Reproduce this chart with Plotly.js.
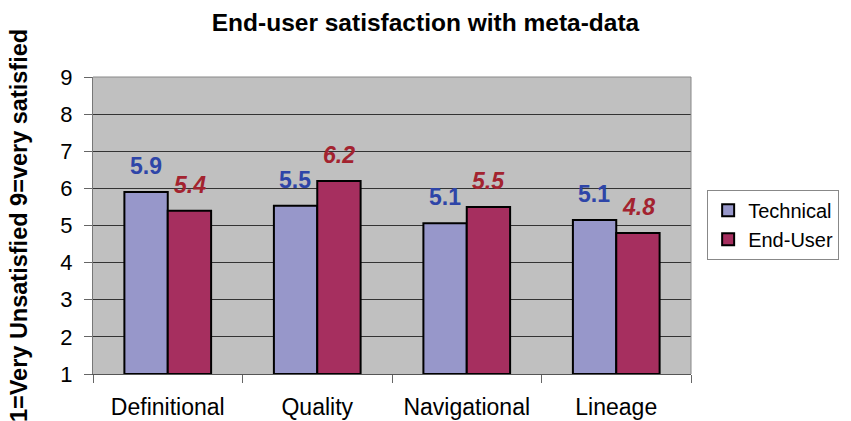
<!DOCTYPE html>
<html><head><meta charset="utf-8">
<script src="https://cdn.plot.ly/plotly-3.0.1.min.js"></script>
<style>html,body{margin:0;padding:0;background:#fff}#c{width:851px;height:421px}</style>
</head><body><div id="c"></div>
<script>
const categories = ["Definitional", "Quality", "Navigational", "Lineage"];
const technical = [5.9, 5.53, 5.06, 5.15];
const endUser = [5.4, 6.2, 5.5, 4.8];
const technicalLabels = ["5.9", "5.5", "5.1", "5.1"];
const endUserLabels = ["5.4", "6.2", "5.5", "4.8"];
const yTicks = [1, 2, 3, 4, 5, 6, 7, 8, 9];
const axisBase = 1;

const font = "Liberation Sans, Arial, sans-serif";
const traces = [
  {type: "bar", name: "Technical", x: categories, y: technical.map(v => v - axisBase), base: axisBase,
   marker: {color: "#9797CA", line: {color: "#000", width: 2}}},
  {type: "bar", name: "End-User", x: categories, y: endUser.map(v => v - axisBase), base: axisBase,
   marker: {color: "#A62F5F", line: {color: "#000", width: 2}}}
];

const annotations = [];
categories.forEach((c, i) => {
  annotations.push({x: c, y: technical[i], text: technicalLabels[i], showarrow: false,
    xshift: -22, yshift: 26, font: {family: font, size: 23, color: "#2E45A8", weight: "bold"}});
  annotations.push({x: c, y: endUser[i], text: "<i>" + endUserLabels[i] + "</i>", showarrow: false,
    xshift: 22, yshift: 26, font: {family: font, size: 23, color: "#A3232F", weight: "bold"}});
});

const layout = {
  width: 851, height: 421,
  margin: {l: 93, r: 154, t: 77, b: 47},
  paper_bgcolor: "#fff", plot_bgcolor: "#C0C0C0",
  title: {text: "<b>End-user satisfaction with meta-data</b>", x: 0.5, xanchor: "center",
    y: 0.947, yanchor: "middle", font: {family: font, size: 24.5, color: "#000"}},
  barmode: "group", bargap: 0.42, bargroupgap: 0,
  xaxis: {type: "category", showgrid: false, tickson: "boundaries", ticks: "outside", ticklen: 8,
    tickcolor: "#666", showline: true, linecolor: "#555", linewidth: 1, mirror: false,
    tickfont: {family: font, size: 23, color: "#000"}, ticklabelstandoff: 12},
  yaxis: {range: [1, 9], tickvals: yTicks, ticks: "outside", ticklen: 8, tickcolor: "#666",
    showline: true, linecolor: "#777", linewidth: 1, mirror: false, zeroline: false,
    gridcolor: "#333", gridwidth: 1, showgrid: true,
    tickfont: {family: font, size: 22, color: "#000"}, ticklabelstandoff: 7,
    title: {text: "<b>1=Very Unsatisfied 9=very satisfied</b>", standoff: 26,
      font: {family: font, size: 23.5, color: "#000"}}},
  legend: {x: 1.027, y: 0.62, xanchor: "left", yanchor: "top", bgcolor: "#fff",
    bordercolor: "#888", borderwidth: 1, font: {family: font, size: 20, color: "#000"},
    itemwidth: 30, tracegroupgap: 0},
  annotations: annotations,
  shapes: [
    {type: "line", xref: "paper", yref: "paper", x0: 0, x1: 1, y0: 1, y1: 1, line: {color: "#888", width: 1}},
    {type: "line", xref: "paper", yref: "paper", x0: 1, x1: 1, y0: 0, y1: 1, line: {color: "#888", width: 1}}
  ],
  showlegend: true
};
Plotly.newPlot("c", traces, layout, {displayModeBar: false, staticPlot: true});
</script></body></html>
